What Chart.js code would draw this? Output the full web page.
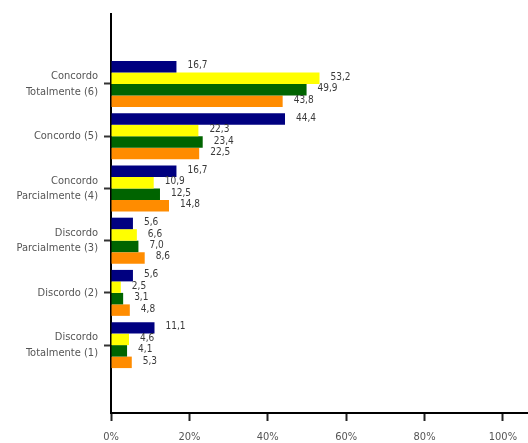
<!DOCTYPE html>
<html>
<head>
<meta charset="utf-8">
<script src="https://cdn.jsdelivr.net/npm/chart.js@4"></script>
<style>
	body { margin: 0; background: #fff; }
</style>
</head>
<body>
<canvas id="myChart" width="528" height="443"></canvas>

<script>
	// categorias (de cima para baixo)
	var categorias = [
		["Concordo", "Totalmente (6)"],
		"Concordo (5)",
		["Concordo", "Parcialmente (4)"],
		["Discordo", "Parcialmente (3)"],
		"Discordo (2)",
		["Discordo", "Totalmente (1)"]
	];

	// valores em %
	var serieAzul    = [16.7, 44.4, 16.7, 5.6, 5.6, 11.1];
	var serieAmarela = [53.2, 22.3, 10.9, 6.6, 2.5, 4.6];
	var serieVerde   = [49.9, 23.4, 12.5, 7.0, 3.1, 4.1];
	var serieLaranja = [43.8, 22.5, 14.8, 8.6, 4.8, 5.3];

	var xTicks = [0, 20, 40, 60, 80, 100];

	var fonte = "'Liberation Sans Narrow', 'DejaVu Sans Condensed', 'DejaVu Sans', sans-serif";
	Chart.defaults.font.family = fonte;

	function pontos(arr) {
		return arr.map(function(v, i) { return { x: v, y: i }; });
	}

	// escreve o valor ao lado de cada barra
	var rotulos = {
		id: 'rotulos',
		afterDatasetsDraw: function(chart) {
			var ctx = chart.ctx;
			ctx.save();
			ctx.font = "condensed 10px " + fonte;
			ctx.fillStyle = '#3a3a3a';
			ctx.textAlign = 'left';
			ctx.textBaseline = 'middle';
			chart.data.datasets.forEach(function(ds, d) {
				chart.getDatasetMeta(d).data.forEach(function(bar, i) {
					var txt = ds.data[i].x.toFixed(1).replace('.', ',');
					ctx.fillText(txt, bar.x + 11, bar.y - 1);
				});
			});
			ctx.restore();
		}
	};

	var ctx = document.getElementById("myChart").getContext('2d');
	var myChart = new Chart(ctx, {
		type: 'bar',
		data: {
			datasets: [
				{ label: 'Azul', data: pontos(serieAzul), backgroundColor: '#000080' },
				{ label: 'Amarelo', data: pontos(serieAmarela), backgroundColor: '#ffff00' },
				{ label: 'Verde', data: pontos(serieVerde), backgroundColor: '#006400' },
				{ label: 'Laranja', data: pontos(serieLaranja), backgroundColor: '#ff8c00' }
			]
		},
		options: {
			indexAxis: 'y',
			responsive: false,
			animation: false,
			devicePixelRatio: 1,
			categoryPercentage: 0.88,
			barPercentage: 1,
			layout: { padding: { top: 14, right: 0, left: 0, bottom: 0 } },
			plugins: {
				legend: { display: false },
				tooltip: { enabled: false }
			},
			scales: {
				y: {
					type: 'linear',
					reverse: true,
					offset: false,
					min: -1.34,
					max: 6.3,
					afterBuildTicks: function(scale) {
						scale.ticks = categorias.map(function(c, i) { return { value: i }; });
					},
					afterFit: function(scale) {
						scale.width = 111;
						scale.paddingTop = 0;
						scale.paddingBottom = 0;
					},
					ticks: {
						callback: function(v) { return categorias[v]; },
						color: '#555',
						font: { size: 11, weight: 'condensed', lineHeight: 1.4 },
						padding: 6,
						autoSkip: false
					},
					grid: { drawOnChartArea: false, offset: false, tickLength: 7, tickWidth: 2, tickColor: '#333' },
					border: { color: '#000', width: 2 }
				},
				x: {
					type: 'linear',
					min: 0,
					max: 106.4,
					afterBuildTicks: function(scale) {
						scale.ticks = xTicks.map(function(v) { return { value: v }; });
					},
					afterFit: function(scale) { scale.height = 30; },
					ticks: {
						callback: function(v) { return v + '%'; },
						color: '#555',
						font: { size: 11, weight: 'condensed' },
						padding: 10,
						maxRotation: 0
					},
					grid: { drawOnChartArea: false, tickLength: 8, tickWidth: 2, tickColor: '#222' },
					border: { color: '#000', width: 2 }
				}
			}
		},
		plugins: [rotulos]
	});
</script>
</body>
</html>
